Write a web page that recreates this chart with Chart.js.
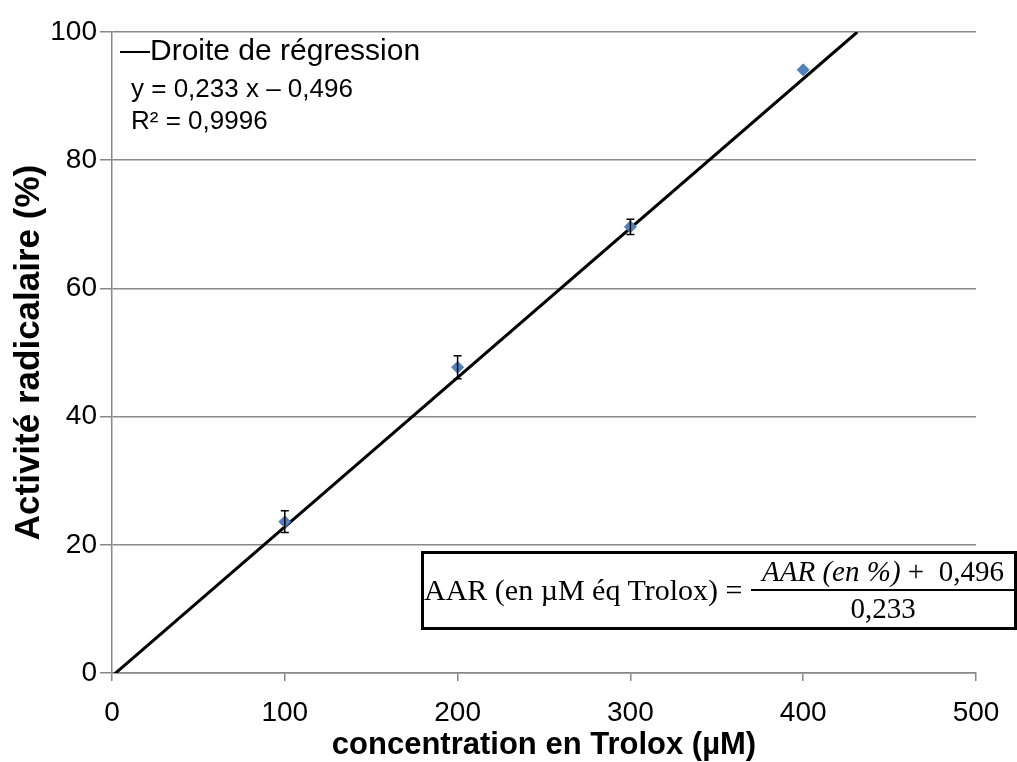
<!DOCTYPE html>
<html>
<head>
<meta charset="utf-8">
<script src="https://cdn.jsdelivr.net/npm/chart.js@4"></script>
<style>
html,body{margin:0;padding:0;background:#fff;}
#wrap{position:relative;width:1017px;height:762px;}
canvas{position:absolute;left:0;top:0;}
.ov{position:absolute;font-family:"Liberation Sans",Arial,sans-serif;color:#000;white-space:nowrap;}
#legend{left:120px;top:32px;font-size:30px;line-height:36px;}
#eq{left:131px;top:72px;font-size:26px;line-height:32px;}
#box{position:absolute;left:421px;top:551px;width:590px;height:73px;border:3px solid #000;font-family:"Liberation Serif","DejaVu Serif",serif;font-size:29px;}
#box .lhs{position:absolute;left:0px;top:19px;font-size:30px;}
#box .frac{position:absolute;left:327px;top:0px;width:264px;text-align:center;}
#box .num{border-bottom:2px solid #000;padding-bottom:1px;line-height:34px;}
#box .den{line-height:34px;}
</style>
</head>
<body>
<div id="wrap">
<canvas id="c" width="1017" height="762"></canvas>
<div class="ov" id="legend"></div>
<div class="ov" id="eq"></div>
<div id="box">
  <div class="lhs">AAR (en µM éq Trolox) =</div>
  <div class="frac"><div class="num"><i>AAR (en %)</i> + &nbsp;0,496</div><div class="den">0,233</div></div>
</div>
</div>
<script>
const concentrations = [100, 200, 300, 400];
const activity = [23.6, 47.7, 69.6, 94.1];
const errorValues = [1.7, 1.8, 1.2, 0];
const slope = 0.233;
const intercept = -0.496;
const rSquared = 0.9996;
const xTicks = [0, 100, 200, 300, 400, 500];
const yTicks = [0, 20, 40, 60, 80, 100];
const legendLabel = 'Droite de régression';
const xTitle = 'concentration en Trolox (µM)';
const yTitle = 'Activité radicalaire (%)';

document.getElementById('legend').textContent = '\u2014' + legendLabel;
document.getElementById('eq').innerHTML = 'y = ' + String(slope).replace('.', ',') + ' x \u2013 ' + String(-intercept).replace('.', ',') + '<br>R\u00b2 = ' + String(rSquared).replace('.', ',');

const yMax = yTicks[yTicks.length - 1];
const lineData = [{x: 0, y: intercept}, {x: (yMax - intercept) / slope, y: yMax}];
const pointData = concentrations.map((c, i) => ({x: c, y: activity[i]}));

const errorBarPlugin = {
  id: 'errorBars',
  afterDatasetsDraw(chart) {
    const ctx = chart.ctx;
    const xs = chart.scales.x, ys = chart.scales.y;
    ctx.save();
    ctx.strokeStyle = '#000';
    ctx.lineWidth = 1.5;
    concentrations.forEach((c, i) => {
      if (!errorValues[i]) return;
      const px = xs.getPixelForValue(c);
      const top = ys.getPixelForValue(activity[i] + errorValues[i]);
      const bot = ys.getPixelForValue(activity[i] - errorValues[i]);
      ctx.beginPath();
      ctx.moveTo(px, top); ctx.lineTo(px, bot);
      ctx.moveTo(px - 4, top); ctx.lineTo(px + 4, top);
      ctx.moveTo(px - 4, bot); ctx.lineTo(px + 4, bot);
      ctx.stroke();
    });
    ctx.restore();
  }
};

new Chart(document.getElementById('c'), {
  type: 'scatter',
  data: {
    datasets: [
      {
        label: 'Activité',
        data: pointData,
        backgroundColor: '#4f81bd',
        borderColor: '#4f81bd',
        pointStyle: 'rectRot',
        pointRadius: 6,
        showLine: false,
        order: 1
      },
      {
        label: legendLabel,
        data: lineData,
        showLine: true,
        borderColor: '#000',
        borderWidth: 3,
        pointRadius: 0,
        order: 2
      }
    ]
  },
  options: {
    responsive: false,
    animation: false,
    devicePixelRatio: 1,
    layout: {padding: {left: 0, right: 41, top: 32, bottom: 0}},
    plugins: {legend: {display: false}, tooltip: {enabled: false}},
    scales: {
      x: {
        type: 'linear', min: 0, max: 500,
        afterBuildTicks: s => { s.ticks = xTicks.map(v => ({value: v})); },
        afterFit: s => { s.height = 89; },
        ticks: {color: '#000', font: {family: 'Liberation Sans', size: 28}, padding: 15},
        grid: {color: 'rgba(0,0,0,0)', tickColor: '#888', tickLength: 8, lineWidth: 1.5, drawTicks: true},
        border: {display: true, color: '#888', width: 1.5},
        title: {display: true, text: xTitle, color: '#000', font: {family: 'Liberation Sans', size: 31, weight: 'bold'}, padding: {top: 0, bottom: -2}}
      },
      y: {
        type: 'linear', min: 0, max: 100,
        afterBuildTicks: s => { s.ticks = yTicks.map(v => ({value: v})); },
        afterFit: s => { s.width = 112; },
        ticks: {color: '#000', font: {family: 'Liberation Sans', size: 28}, padding: 3},
        grid: {color: '#888', tickColor: '#888', tickLength: 12, lineWidth: 1.5},
        border: {display: true, color: '#888', width: 1.5},
        title: {display: true, text: yTitle, color: '#000', font: {family: 'Liberation Sans', size: 35, weight: 'bold'}, padding: {top: 8, bottom: 0}}
      }
    }
  },
  plugins: [errorBarPlugin]
});
</script>
</body>
</html>
